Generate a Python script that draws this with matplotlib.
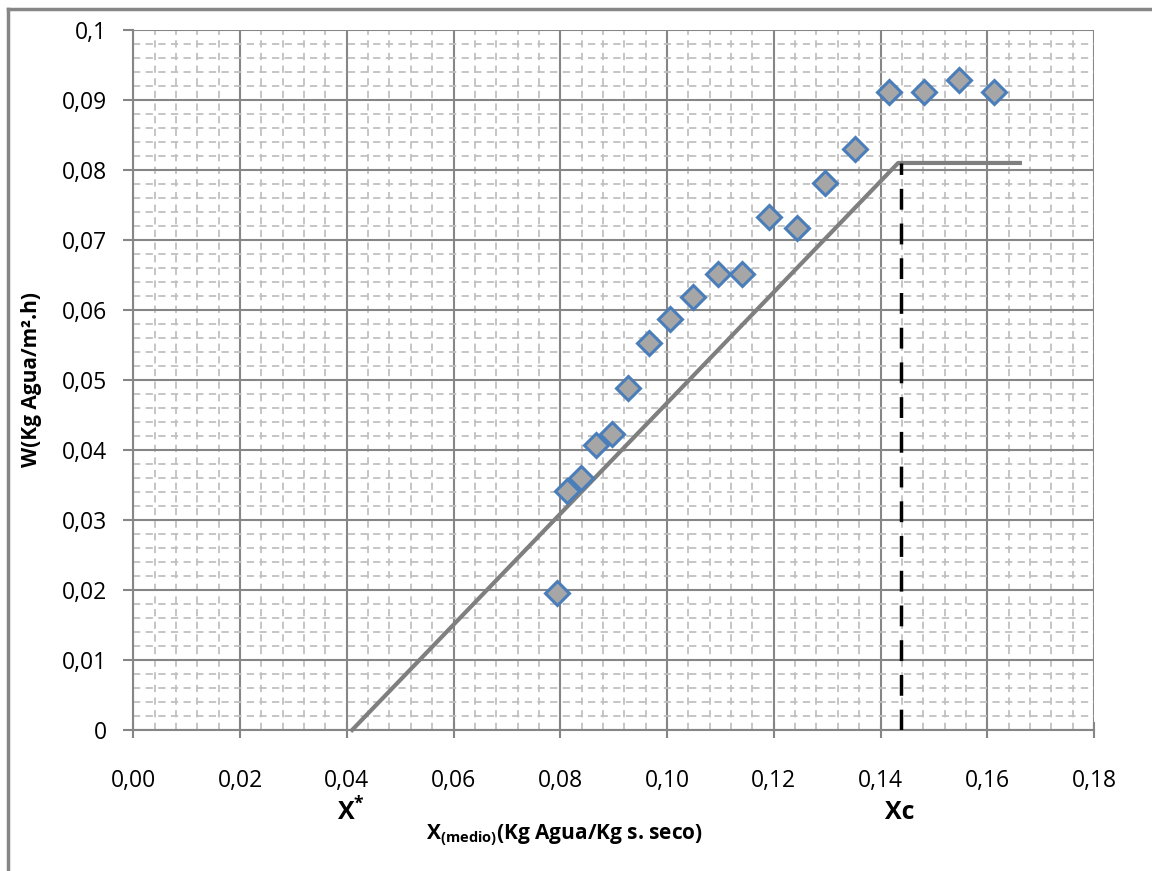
import numpy as np
import matplotlib
matplotlib.use("Agg")
from matplotlib import pyplot as plt
from matplotlib.ticker import MultipleLocator, FuncFormatter
from matplotlib.lines import Line2D

plt.rcParams['font.family'] = ['Open Sans', 'DejaVu Sans']
plt.rcParams['mathtext.fontset'] = 'custom'
plt.rcParams['mathtext.rm'] = 'Open Sans'
plt.rcParams['mathtext.bf'] = 'Open Sans:bold'

# measured points
x_medio = [0.0794, 0.0813, 0.0838, 0.0866, 0.0896, 0.0927, 0.0966, 0.1006, 0.1049,
           0.1095, 0.1141, 0.1191, 0.1243, 0.1295, 0.1353, 0.1416, 0.1481, 0.1547, 0.1613]
w_rate = [0.0196, 0.0342, 0.0360, 0.0407, 0.0423, 0.0488, 0.0553, 0.0587, 0.0618,
          0.0651, 0.0651, 0.0733, 0.0717, 0.0781, 0.0830, 0.0912, 0.0912, 0.0929, 0.0912]

# fitted drying curve: falling rate line + constant rate
curve_x = [0.041, 0.1433, 0.1661]
curve_w = [0.0, 0.081, 0.081]
xc = 0.1438
wc = 0.081

fig = plt.figure(figsize=(11.52, 8.71), dpi=100)
ax = fig.add_axes([0.1157, 0.1619, 0.8340, 0.8037])

ax.set_xlim(0, 0.18)
ax.set_ylim(0, 0.1)
ax.xaxis.set_major_locator(MultipleLocator(0.02))
ax.xaxis.set_minor_locator(MultipleLocator(0.004))
ax.yaxis.set_major_locator(MultipleLocator(0.01))
ax.yaxis.set_minor_locator(MultipleLocator(0.002))

ax.xaxis.set_major_formatter(FuncFormatter(lambda v, p: ("%.2f" % v).replace('.', ',')))
def yfmt(v, p):
    if abs(v) < 1e-9:
        return "0"
    s = ("%.2f" % v)
    if abs(v - 0.1) < 1e-9:
        s = "0.1"
    return s.replace('.', ',')
ax.yaxis.set_major_formatter(FuncFormatter(yfmt))

ax.grid(which='major', color='#868686', lw=1.5)
ax.grid(which='minor', color='#c0c0c0', lw=1.3, ls=(0, (4, 3)))
ax.set_axisbelow(True)

for s in ['top', 'right']:
    ax.spines[s].set_visible(False)
for s in ['left', 'bottom']:
    ax.spines[s].set_color('#868686')
    ax.spines[s].set_linewidth(1.5)

ax.tick_params(which='major', length=7, width=1.5, color='#868686', labelsize=16.5, pad=12)
ax.tick_params(axis='x', which='major', direction='inout', length=12, pad=22)
ax.tick_params(which='minor', length=0)

ax.plot(curve_x, curve_w, color='#7f7f7f', lw=3, zorder=3, clip_on=False)
ax.plot([xc, xc], [0, wc], color='black', lw=2.5, ls=(0, (6, 4)), zorder=3)

ax.plot(x_medio, w_rate, ls='none', marker='D', markersize=12,
        markerfacecolor='#a6a6a6', markeredgecolor='#4a7ebb', markeredgewidth=2.2, zorder=4)

ax.set_ylabel('W(Kg Agua/m².h)', fontsize=15, fontweight='bold', labelpad=14)

fig.text(565 / 1152, 1 - 835 / 871, r'X$_{\mathbf{(medio)}}$(Kg Agua/Kg s. seco)',
         fontsize=15, fontweight='bold', ha='center', va='center')
fig.text(351 / 1152, 1 - 812 / 871, r'$\mathbf{X^{*}}$', fontsize=18, ha='center', va='center')
fig.text(900 / 1152, 1 - 812 / 871, 'Xc', fontsize=18, fontweight='bold', ha='center', va='center')

# chart-area border (only left and top visible)
fig.add_artist(Line2D([8 / 1152, 8 / 1152], [0, 1 - 9 / 871], color='#868686', lw=2.5,
                      transform=fig.transFigure))
fig.add_artist(Line2D([8 / 1152, 1], [1 - 9 / 871, 1 - 9 / 871], color='#868686', lw=2.5,
                      transform=fig.transFigure))

fig.savefig('out.png', dpi=100)
